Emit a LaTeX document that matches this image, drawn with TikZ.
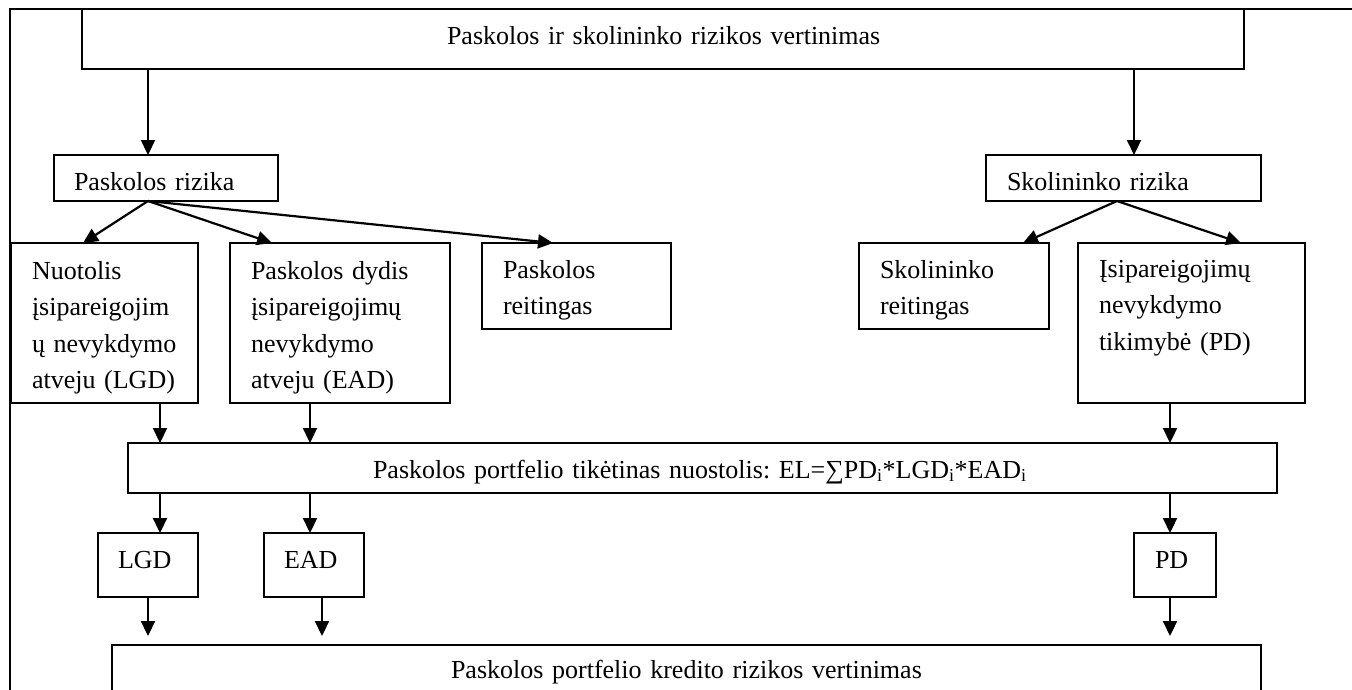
\documentclass[tikz,border=0pt]{standalone}
\usepackage{fontspec}
\setmainfont{Liberation Serif}
\usetikzlibrary{arrows.meta,calc}
\frenchspacing
\begin{document}
\begin{tikzpicture}[x=1pt,y=-1pt,
  box/.style={draw,line width=2.2pt,inner sep=0pt,outer sep=0pt,anchor=north west},
  txt/.style={inner sep=0pt,outer sep=0pt,anchor=base west,align=left,text width=#1,
    font=\fontsize{26}{36.5}\selectfont\frenchspacing},
  txt/.default=600pt,
  arr/.style={line width=2.2pt,-{Triangle[length=15pt,width=14pt]}}]
\useasboundingbox (0,0) rectangle (1352,689);
\clip (0,0) rectangle (1352,689);
% outer frame (top and left rules)
\coordinate (frtl) at (10,9);
\coordinate (frtr) at (1360,9);
\coordinate (frbl) at (10,700);
\draw[line width=2.2pt] (frtr) -- (frtl) -- (frbl);
% boxes
\node[box,minimum width=1162pt,minimum height=60pt] (top) at (82,9) {};
\node[box,minimum width=224pt,minimum height=46pt] (prz) at (54,155) {};
\node[box,minimum width=275pt,minimum height=46pt] (srz) at (986,155) {};
\node[box,minimum width=187pt,minimum height=160pt] (nuo) at (11,243) {};
\node[box,minimum width=220pt,minimum height=160pt] (dyd) at (230,243) {};
\node[box,minimum width=189pt,minimum height=86pt] (prt) at (482,243) {};
\node[box,minimum width=190pt,minimum height=86pt] (srt) at (859,243) {};
\node[box,minimum width=227pt,minimum height=160pt] (isip) at (1078,243) {};
\node[box,minimum width=1149pt,minimum height=50pt] (el) at (128,443) {};
\node[box,minimum width=100pt,minimum height=64pt] (lgd) at (98,533) {};
\node[box,minimum width=100pt,minimum height=64pt] (ead) at (264,533) {};
\node[box,minimum width=82pt,minimum height=64pt] (pd) at (1134,533) {};
\node[box,minimum width=1149pt,minimum height=90pt] (bot) at (112,645) {};
% texts
\node[txt] (ttop) at (447,44) {Paskolos ir skolininko rizikos vertinimas};
\node[txt] (tprz) at (74,190) {Paskolos rizika};
\node[txt] (tsrz) at (1007,190) {Skolininko rizika};
\node[txt] (tnuo) at (32,279) {Nuotolis\\įsipareigojim\\ų nevykdymo\\atveju (LGD)};
\node[txt] (tdyd) at (251,279) {Paskolos dydis\\įsipareigojimų\\nevykdymo\\atveju (EAD)};
\node[txt] (tprt) at (503,278) {Paskolos\\reitingas};
\node[txt] (tsrt) at (880,278) {Skolininko\\reitingas};
\node[txt] (tisip) at (1099,277) {Įsipareigojimų\\nevykdymo\\tikimybė (PD)};
\node[txt=900pt] (tel) at (373,478) {Paskolos portfelio tikėtinas nuostolis: EL=∑PD\textsubscript{i}*LGD\textsubscript{i}*EAD\textsubscript{i}};
\node[txt] (tlgd) at (118,568) {LGD};
\node[txt] (tead) at (284,568) {EAD};
\node[txt] (tpd) at (1155,568) {PD};
\node[txt] (tbot) at (451,678) {Paskolos portfelio kredito rizikos vertinimas};
% connectors
\draw[arr] ($(top.south west)+(66,0)$) -- ($(prz.north west)+(94,0)$);
\draw[arr] ($(top.south west)+(1052,0)$) -- ($(srz.north west)+(148,0)$);
\draw[arr] ($(prz.south west)+(94,0)$) -- ($(nuo.north west)+(72,0)$);
\draw[arr] ($(prz.south west)+(94,0)$) -- ($(dyd.north west)+(42,0)$);
\draw[arr] ($(prz.south west)+(94,0)$) -- ($(prt.north west)+(71,0)$);
\draw[arr] ($(srz.south west)+(131,0)$) -- ($(srt.north west)+(164,0)$);
\draw[arr] ($(srz.south west)+(131,0)$) -- ($(isip.north west)+(163,0)$);
\draw[arr] ($(nuo.south west)+(149,0)$) -- ($(el.north west)+(32,0)$);
\draw[arr] ($(dyd.south west)+(80,0)$) -- ($(el.north west)+(182,0)$);
\draw[arr] ($(isip.south west)+(92,0)$) -- ($(el.north west)+(1042,0)$);
\draw[arr] ($(el.south west)+(32,0)$) -- ($(lgd.north west)+(62,0)$);
\draw[arr] ($(el.south west)+(182,0)$) -- ($(ead.north west)+(46,0)$);
\draw[arr] ($(el.south west)+(1042,0)$) -- ($(pd.north west)+(36,0)$);
\draw[arr,shorten >=9pt] ($(lgd.south west)+(50,0)$) -- ($(bot.north west)+(36,0)$);
\draw[arr,shorten >=9pt] ($(ead.south west)+(58,0)$) -- ($(bot.north west)+(210,0)$);
\draw[arr,shorten >=9pt] ($(pd.south west)+(36,0)$) -- ($(bot.north west)+(1058,0)$);
\end{tikzpicture}
\end{document}
